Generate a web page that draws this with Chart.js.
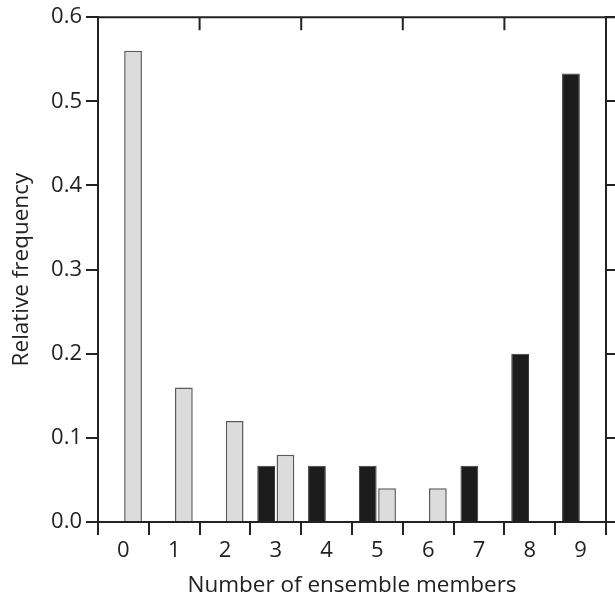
<!DOCTYPE html>
<html>
<head>
<meta charset="utf-8">
<script src="https://cdn.jsdelivr.net/npm/chart.js@4/dist/chart.umd.min.js"></script>
<style>
  body { margin: 0; background: #fff; }
  #wrap { width: 615px; height: 599px; }
</style>
</head>
<body>
<div id="wrap"><canvas id="chart"></canvas></div>
<script>
// number of ensemble members on the x axis
const categories = ['0', '1', '2', '3', '4', '5', '6', '7', '8', '9'];
// black bars (left of each pair)
const blackVals = [null, null, null, 0.067, 0.067, 0.067, null, 0.067, 0.2, 0.533];
// light gray bars (right of each pair)
const grayVals = [0.56, 0.16, 0.12, 0.08, null, 0.04, 0.04, null, null, null];
const yTicks = [0, 0.1, 0.2, 0.3, 0.4, 0.5, 0.6];

const ink = '#222222';
const tickFont = { family: '"Open Sans", sans-serif', size: 22 };
const titleFont = { family: '"Open Sans", sans-serif', size: 22.5 };

// top border with inward ticks every two categories
const topFrame = {
  id: 'topFrame',
  afterDraw(chart) {
    const ctx = chart.ctx;
    const a = chart.chartArea;
    const x = chart.scales.x;
    ctx.save();
    ctx.strokeStyle = ink;
    ctx.lineWidth = 2;
    ctx.beginPath();
    ctx.moveTo(a.left - 1, a.top);
    ctx.lineTo(chart.width, a.top);
    for (let i = 1; i < categories.length - 1; i += 2) {
      const px = (x.getPixelForValue(i) + x.getPixelForValue(i + 1)) / 2;
      ctx.moveTo(px, a.top);
      ctx.lineTo(px, a.top + 13);
    }
    ctx.stroke();
    ctx.restore();
  }
};

new Chart(document.getElementById('chart'), {
  type: 'bar',
  data: {
    labels: categories,
    datasets: [
      {
        label: 'black',
        data: blackVals,
        backgroundColor: '#1c1c1c',
        borderColor: '#3a3a3a',
        borderWidth: 1,
        categoryPercentage: 0.76,
        barPercentage: 0.92
      },
      {
        label: 'gray',
        data: grayVals,
        backgroundColor: '#dcdcdc',
        borderColor: '#5a5a5a',
        borderWidth: 1.5,
        categoryPercentage: 0.76,
        barPercentage: 0.92
      }
    ]
  },
  options: {
    responsive: true,
    maintainAspectRatio: false,
    animation: false,
    layout: { padding: { top: 17, left: 0, right: 0, bottom: 0 } },
    plugins: { legend: { display: false }, tooltip: { enabled: false } },
    scales: {
      x: {
        afterFit: s => { s.height = 77; },
        grid: { offset: true, drawOnChartArea: false, color: ink, lineWidth: 2, tickLength: 13 },
        border: { color: ink, width: 2 },
        ticks: { color: ink, font: tickFont, padding: 3 },
        title: { display: true, text: 'Number of ensemble members', color: ink, font: titleFont, padding: { top: 0, bottom: 0 } }
      },
      y: {
        min: 0,
        max: 0.6,
        afterFit: s => { s.width = 98; },
        afterBuildTicks: s => { s.ticks = yTicks.map(v => ({ value: v })); },
        grid: { drawOnChartArea: false, color: ink, lineWidth: 2, tickLength: 12 },
        border: { color: ink, width: 2 },
        ticks: { color: ink, font: tickFont, padding: 4, callback: v => v.toFixed(1) },
        title: { display: true, text: 'Relative frequency', color: ink, font: titleFont, padding: { top: 8, bottom: 0 } }
      },
      y2: {
        position: 'right',
        min: 0,
        max: 0.6,
        afterBuildTicks: s => { s.ticks = yTicks.map(v => ({ value: v })); },
        grid: { drawOnChartArea: false, color: ink, lineWidth: 2, tickLength: 9 },
        border: { color: ink, width: 2 },
        ticks: { display: false }
      }
    }
  },
  plugins: [topFrame]
});
</script>
</body>
</html>
